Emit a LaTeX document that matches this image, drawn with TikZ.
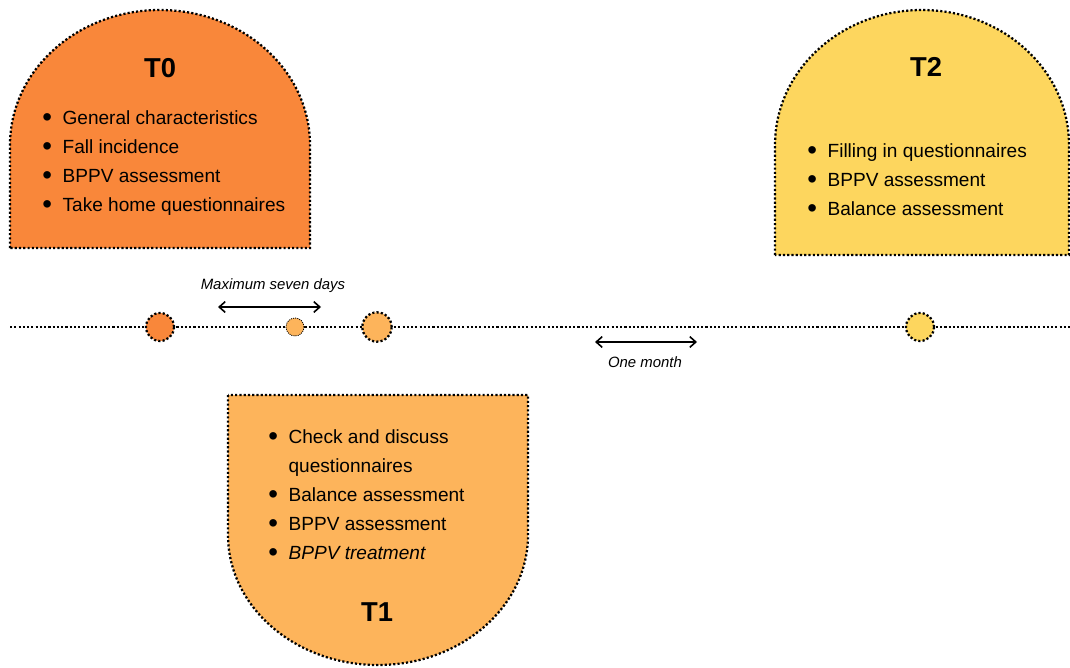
\documentclass[tikz,border=0pt]{standalone}
\usepackage{fontspec}
\setmainfont{Liberation Sans}
\usetikzlibrary{arrows.meta}
\definecolor{tzero}{HTML}{F9873A}
\definecolor{tone}{HTML}{FDB45B}
\definecolor{ttwo}{HTML}{FDD65E}
\newcommand\listsize{\fontsize{14.3}{21.75}\selectfont}
\newcommand\titlesize{\fontsize{20.5}{24}\selectfont\bfseries}
\newcommand\notesize{\fontsize{11.2}{12}\selectfont\itshape}
\newcommand\blt{\raisebox{-0.12em}{\scalebox{1.45}{\textbullet}}}

\begin{document}
\begin{tikzpicture}[x=0.75pt, y=-0.75pt,
  dotline/.style={line width=1.7pt, dash pattern=on 1.6pt off 1.6pt},
  stage/.style={draw=black, dotline},
  dot/.style={circle, draw=black, dotline, inner sep=0pt, minimum size=21pt},
  span/.style={line width=1.2pt, {Straight Barb[length=4.5pt,width=8pt]}-{Straight Barb[length=4.5pt,width=8pt]}}]
  \useasboundingbox (0,0) rectangle (1070,667);
  % Stage shapes
  \draw[stage, fill=tzero] (10,248) -- (10,145) arc[start angle=180, end angle=360, x radius=150, y radius=135] -- (310,248) -- cycle;
  \draw[stage, fill=ttwo] (775,255) -- (775,145) arc[start angle=180, end angle=360, x radius=147, y radius=135] -- (1069,255) -- cycle;
  \draw[stage, fill=tone] (228,395) -- (228,535) arc[start angle=180, end angle=0, x radius=150, y radius=130] -- (528,395) -- cycle;
  % Titles and lists
  \node[font=\titlesize] (t0) at (160,68) {T0};
  \node[font=\titlesize] (t2) at (926,67) {T2};
  \node[font=\titlesize] (t1) at (377,612) {T1};
  \node[anchor=west, inner sep=0pt, font=\listsize] (t0list) at (42,162) {%
    \begin{tabular}{@{}l@{\hspace{8pt}}l@{}}
      \blt & General characteristics\\
      \blt & Fall incidence\\
      \blt & BPPV assessment\\
      \blt & Take home questionnaires
    \end{tabular}};
  \node[anchor=west, inner sep=0pt, font=\listsize] (t2list) at (807,180.5) {%
    \begin{tabular}{@{}l@{\hspace{8pt}}l@{}}
      \blt & Filling in questionnaires\\
      \blt & BPPV assessment\\
      \blt & Balance assessment
    \end{tabular}};
  \node[anchor=west, inner sep=0pt, font=\listsize] (t1list) at (268,495.5) {%
    \begin{tabular}{@{}l@{\hspace{8pt}}l@{}}
      \blt & Check and discuss\\
           & questionnaires\\
      \blt & Balance assessment\\
      \blt & BPPV assessment\\
      \blt & \textit{BPPV treatment}
    \end{tabular}};
  % Timeline
  \coordinate (lstart) at (10,327);
  \coordinate (lend) at (1070,327);
  \draw[dotline] (lstart) -- (lend);
  \node[dot, fill=tzero] (d0) at (160,327) {};
  \node[dot, fill=tone, minimum size=13.5pt, line width=0.6pt, dash pattern=on 0.8pt off 0.8pt] (dmid) at (295,327) {};
  \node[dot, fill=tone, minimum size=22pt] (d1) at (377,327) {};
  \node[dot, fill=ttwo] (d2) at (920,327) {};
  % Intervals
  \coordinate (wa) at (218,307);
  \coordinate (wb) at (321,307);
  \draw[span] (wa) -- (wb);
  \node[font=\notesize] (week) at (273,286) {Maximum seven days};
  \coordinate (ma) at (595,342);
  \coordinate (mb) at (697,342);
  \draw[span] (ma) -- (mb);
  \node[font=\notesize] (month) at (645,362) {One month};
\end{tikzpicture}
\end{document}
